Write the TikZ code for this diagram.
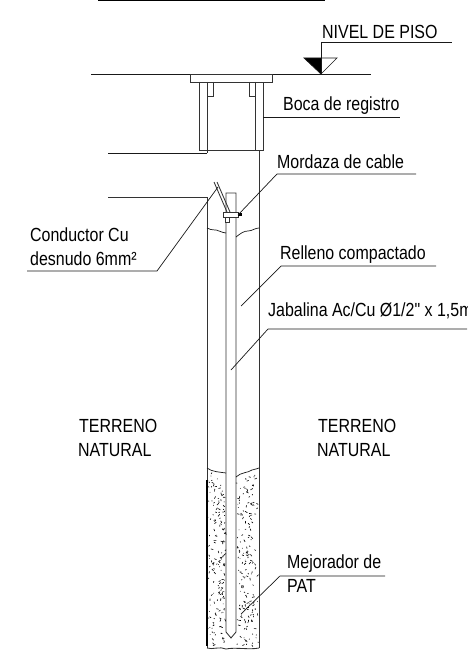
\documentclass[tikz,border=0pt]{standalone}
\usepackage{fontspec}
\setmainfont[FakeStretch=0.84]{Liberation Sans}
\newfontfamily\plainqf[FakeStretch=0.84]{Liberation Sans}
\begin{document}
\begin{tikzpicture}[x=1pt,y=-1pt,
  wall/.style={draw=black!80,line width=0.85pt},
  thin line/.style={draw=black!90,line width=0.7pt},
  lbl/.style={anchor=base west,inner sep=0pt,font=\fontsize{19}{22}\selectfont}]
\useasboundingbox[fill=white] (0,0) rectangle (467,650);
% top title rule
\draw[line width=1.8pt] (98,0.5) -- (325,0.5);
% floor
\draw[thin line] (91,74) -- (371,74);
% level mark
\coordinate (tipL) at (321,74);
\coordinate (levA) at (321,42);
\fill (304,58) -- (321,58) -- (tipL) -- cycle;
\draw[thin line] (304,58) -- (337,58) -- (tipL) -- cycle;
\draw[thin line] (levA) -- (tipL);
\draw[thin line] (levA) -- (452,42);
\node[lbl] (nivel) at (322,39) {NIVEL DE PISO};
% box
\draw[wall] (190,74) rectangle (272,82);
\draw[wall] (199,82) -- (199,150) -- (263,150) -- (263,82);
\draw[wall] (207,82) -- (207,153);
\draw[wall] (255,82) -- (255,150);
\draw[wall] (213,82) -- (213,96) -- (207,96);
\draw[wall] (249,82) -- (249,96) -- (255,96);
\draw[thin line] (108,153) -- (207,153);
% pipe
\draw[wall] (108,197) -- (207,197) -- (207,648);
\draw[wall] (259,150) -- (259,648);
\draw[wall] (207,648) .. controls (212,650) and (220,646) .. (226,649) .. controls (235,647) and (250,650) .. (259,648);
% rod
\draw[wall] (226,222) -- (226,632) -- (231,638) -- (236,632) -- (236,193) -- (226,193) -- (226,212);
% cable
\draw[wall] (214,182) -- (227,212);
\draw[wall] (217,182) -- (230,212);
% clamp
\draw[wall,fill=white] (223,212) rectangle (238,217);
\draw[wall,fill=white] (225,217) rectangle (229,222);
\fill (238,213) rectangle (242,216);
% fill tops
\draw[thin line] (207,228) .. controls (212,231) and (216,229) .. (219,231) .. controls (222,233) and (224,232) .. (226,233);
\draw[thin line] (236,237) .. controls (241,233) and (244,231) .. (248,231) .. controls (252,231) and (255,228) .. (259,228);
\draw[thin line] (207,468) .. controls (212,472) and (220,472) .. (226,473);
\draw[thin line] (236,477) .. controls (241,472) and (248,473) .. (252,470) .. controls (255,470) and (257,468) .. (259,468);
% speckle
\pgfmathsetseed{4711}
\foreach \i in {1,...,170}{
  \pgfmathsetmacro{\px}{208+17*rnd}
  \pgfmathsetmacro{\py}{474+172*rnd}
  \pgfmathsetmacro{\ang}{360*rnd}
  \pgfmathsetmacro{\len}{0.5+2.2*rnd}
  \draw[line width=0.6pt] (\px,\py) -- ++(\ang:\len);
}
\foreach \i in {1,...,170}{
  \pgfmathsetmacro{\px}{237+21*rnd}
  \pgfmathsetmacro{\py}{476+170*rnd}
  \pgfmathsetmacro{\ang}{360*rnd}
  \pgfmathsetmacro{\len}{0.5+2.2*rnd}
  \draw[line width=0.6pt] (\px,\py) -- ++(\ang:\len);
}
\draw[line width=1.2pt] (207,480) -- (207,646);
% labels and leaders
\node[lbl] (boca) at (283,111) {Boca de registro};
\draw[thin line] (263,117) -- (400,117);
\node[lbl] (mordaza) at (277,168) {Mordaza de cable};
\draw[thin line] (416,174) -- (277,174) -- (238,215);
\node[lbl] (relleno) at (280,259) {Relleno compactado};
\draw[thin line] (436,266) -- (281,266) -- (241,306);
\node[lbl] (jabalina) at (268,316) {\plainqf\fontsize{19}{22}\selectfont Jabalina Ac/Cu Ø1/2" x 1,5m};
\draw[thin line] (467,329) -- (268,329) -- (231,370);
\node[lbl] (cond1) at (30,241) {Conductor Cu};
\node[lbl] (cond2) at (30,265) {desnudo 6mm²};
\draw[thin line] (27,271) -- (157,271) -- (218,187);
\node[lbl] (tn1a) at (79,432) {TERRENO};
\node[lbl] (tn1b) at (78,456) {NATURAL};
\node[lbl] (tn2a) at (318,432) {TERRENO};
\node[lbl] (tn2b) at (317,456) {NATURAL};
\node[lbl] (mej1) at (287,568) {Mejorador de};
\node[lbl] (mej2) at (287,592) {PAT};
\draw[thin line] (385,576) -- (280,576) -- (241,614);
\end{tikzpicture}
\end{document}
